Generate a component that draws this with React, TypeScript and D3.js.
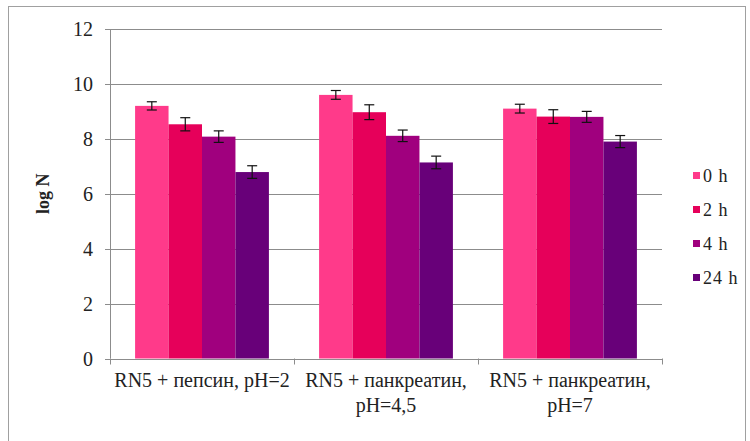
import React from "react";
import * as d3 from "d3";

const categories: string[][] = [
  ["RN5 + пепсин, pH=2"],
  ["RN5 + панкреатин,", "pH=4,5"],
  ["RN5 + панкреатин,", "pH=7"],
];
const seriesNames = ["0 h", "2 h", "4 h", "24 h"];
const seriesColors = ["#FF3A8A", "#E6005A", "#A0007E", "#680079"];
const values: number[][] = [
  [9.2, 9.6, 9.1],
  [8.53, 8.97, 8.81],
  [8.08, 8.11, 8.8],
  [6.79, 7.14, 7.9],
];
const errors: number[][] = [
  [0.15, 0.16, 0.16],
  [0.24, 0.27, 0.25],
  [0.21, 0.21, 0.2],
  [0.23, 0.23, 0.22],
];
const yTicks = [0, 2, 4, 6, 8, 10, 12];

const W = 750;
const H = 441;
const left = 110;
const right = 662;
const top = 29;
const bottom = 358.5;
const font = "Liberation Serif";

export default function App() {
  const y = d3.scaleLinear().domain([0, 12]).range([bottom, top]);
  const x0 = d3
    .scaleBand<number>()
    .domain(d3.range(categories.length))
    .range([left, right])
    .paddingInner(0)
    .paddingOuter(0);
  const groupW = x0.bandwidth();
  const barW = groupW / 5.5;
  const x1 = d3
    .scaleBand<number>()
    .domain(d3.range(seriesNames.length))
    .range([barW * 0.75, groupW - barW * 0.75]);

  const grid = "#8c8c8c";
  return (
    <svg
      width={W}
      height={H}
      style={{ position: "absolute", left: 0, top: 0, background: "#fff" }}
    >
      <rect x={8.5} y={6.5} width={737} height={445} fill="#fff" stroke="#a0a0a0" />
      {yTicks.map((t) => (
        <g key={t}>
          <line x1={left - 5} x2={right} y1={Math.round(y(t)) + 0.5} y2={Math.round(y(t)) + 0.5} stroke={grid} />
          <text
            x={left - 17}
            y={y(t)}
            dy="0.35em"
            textAnchor="end"
            fontFamily={font}
            fontSize={20}
            fill="#222"
          >
            {t}
          </text>
        </g>
      ))}
      <line x1={left + 0.5} x2={left + 0.5} y1={top} y2={bottom} stroke={grid} />
      {d3.range(categories.length + 1).map((i) => {
        const xx = Math.round(left + i * groupW) + 0.5;
        return <line key={i} x1={xx} x2={xx} y1={bottom} y2={bottom + 6} stroke={grid} />;
      })}
      {values.map((row, s) =>
        row.map((v, c) => {
          const bx = (x0(c) as number) + (x1(s) as number);
          return (
            <rect
              key={`${s}-${c}`}
              x={bx}
              y={y(v)}
              width={x1.bandwidth()}
              height={bottom - y(v)}
              fill={seriesColors[s]}
            />
          );
        })
      )}
      {values.map((row, s) =>
        row.map((v, c) => {
          const cx = (x0(c) as number) + (x1(s) as number) + x1.bandwidth() / 2;
          const e = errors[s][c];
          const y1 = y(v + e);
          const y2 = y(v - e);
          return (
            <g key={`e${s}-${c}`} stroke="#111" strokeWidth={1.2}>
              <line x1={cx} x2={cx} y1={y1} y2={y2} />
              <line x1={cx - 5} x2={cx + 5} y1={y1} y2={y1} />
              <line x1={cx - 5} x2={cx + 5} y1={y2} y2={y2} />
            </g>
          );
        })
      )}
      {categories.map((lines, c) => {
        const cx = (x0(c) as number) + groupW / 2;
        return (
          <text key={c} fontFamily={font} fontSize={20} fill="#222" textAnchor="middle">
            {lines.map((l, i) => (
              <tspan key={i} x={cx} y={387 + i * 25}>
                {l}
              </tspan>
            ))}
          </text>
        );
      })}
      <text
        transform={`translate(49,${(top + bottom) / 2}) rotate(-90)`}
        textAnchor="middle"
        fontFamily={font}
        fontSize={18}
        fontWeight="bold"
        fill="#222"
      >
        log N
      </text>
      {seriesNames.map((n, i) => {
        const ly = 176 + i * 34;
        return (
          <g key={n}>
            <rect x={693} y={ly - 4} width={7} height={7} fill={seriesColors[i]} />
            <text x={703} y={ly} dy="0.35em" fontFamily={font} fontSize={18} fill="#222" letterSpacing={1}>
              {n}
            </text>
          </g>
        );
      })}
    </svg>
  );
}
